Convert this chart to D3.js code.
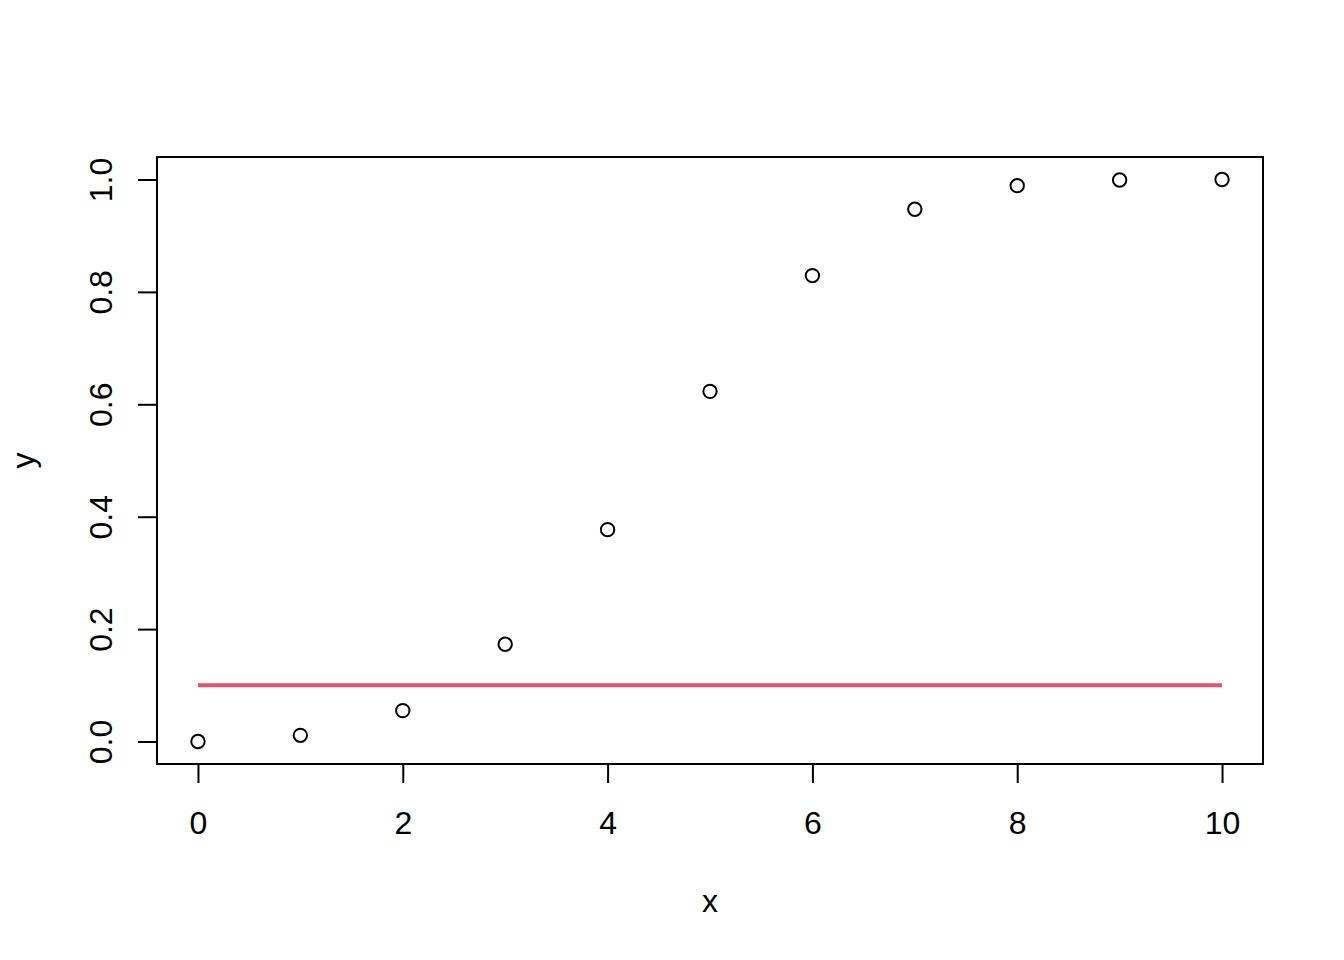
<!DOCTYPE html>
<html>
<head>
<meta charset="utf-8">
<script src="https://cdn.jsdelivr.net/npm/d3@7"></script>
<style>
  body { margin: 0; background: #fff; }
  text { font-family: "Liberation Sans", Arial, sans-serif; fill: #000; }
</style>
</head>
<body>
<svg id="chart"></svg>
<script>
var xValues = [0, 1, 2, 3, 4, 5, 6, 7, 8, 9, 10];
var yValues = [0.0, 0.011, 0.055, 0.173, 0.377, 0.623, 0.829, 0.947, 0.989, 0.999, 1.0];
var xTicks = [0, 2, 4, 6, 8, 10];
var yTicks = [0.0, 0.2, 0.4, 0.6, 0.8, 1.0];
var refLine = { x0: 0, x1: 10, y: 0.1 };

var width = 1344, height = 960;
var plot = { left: 157, right: 1263, top: 157, bottom: 764 };

var svg = d3.select("#chart")
    .attr("width", width)
    .attr("height", height);

// R pads the data range by 4% on each side
var xScale = d3.scaleLinear()
    .domain([-0.4, 10.4])
    .range([plot.left, plot.right]);

var yScale = d3.scaleLinear()
    .domain([-0.04, 1.04])
    .range([plot.bottom, plot.top]);

// Box
svg.append("rect")
    .attr("x", plot.left)
    .attr("y", plot.top)
    .attr("width", plot.right - plot.left)
    .attr("height", plot.bottom - plot.top)
    .attr("fill", "none")
    .attr("stroke", "#000")
    .attr("stroke-width", 2);

// X axis
var xAxis = svg.append("g")
    .attr("transform", "translate(0," + plot.bottom + ")")
    .call(d3.axisBottom(xScale).tickValues(xTicks).tickSize(19).tickPadding(0).tickFormat(d3.format("d")));
xAxis.select(".domain")
    .attr("d", "M" + xScale(0) + ",0H" + xScale(10))
    .attr("stroke-width", 2);
xAxis.selectAll(".tick line").attr("stroke-width", 2);
xAxis.selectAll(".tick text")
    .attr("y", 70)
    .attr("dy", null)
    .style("font-size", "32px")
    .style("font-family", "Liberation Sans, Arial, sans-serif");

// Y axis
var yAxis = svg.append("g")
    .attr("transform", "translate(" + plot.left + ",0)")
    .call(d3.axisLeft(yScale).tickValues(yTicks).tickSize(19).tickFormat(d3.format(".1f")));
yAxis.select(".domain")
    .attr("d", "M0," + yScale(0) + "V" + yScale(1))
    .attr("stroke-width", 2);
yAxis.selectAll(".tick line").attr("stroke-width", 2);
yAxis.selectAll(".tick text")
    .attr("x", null)
    .attr("dy", null)
    .attr("transform", "translate(-45,0) rotate(-90)")
    .attr("text-anchor", "middle")
    .style("font-size", "32px")
    .style("font-family", "Liberation Sans, Arial, sans-serif");

// Axis titles
svg.append("text")
    .attr("x", (plot.left + plot.right) / 2)
    .attr("y", 912)
    .attr("text-anchor", "middle")
    .style("font-size", "32px")
    .text("x");

svg.append("text")
    .attr("transform", "translate(34," + (plot.top + plot.bottom) / 2 + ") rotate(-90)")
    .attr("text-anchor", "middle")
    .style("font-size", "32px")
    .text("y");

// Reference line
svg.append("line")
    .attr("x1", xScale(refLine.x0))
    .attr("x2", xScale(refLine.x1))
    .attr("y1", yScale(refLine.y))
    .attr("y2", yScale(refLine.y))
    .attr("stroke", "#DF536B")
    .attr("stroke-width", 4);

// Points
svg.selectAll(".pt")
    .data(xValues)
    .enter().append("circle")
    .attr("class", "pt")
    .attr("cx", function (d) { return xScale(d); })
    .attr("cy", function (d, i) { return yScale(yValues[i]); })
    .attr("r", 6.7)
    .attr("fill", "none")
    .attr("stroke", "#000")
    .attr("stroke-width", 2);
</script>
</body>
</html>
